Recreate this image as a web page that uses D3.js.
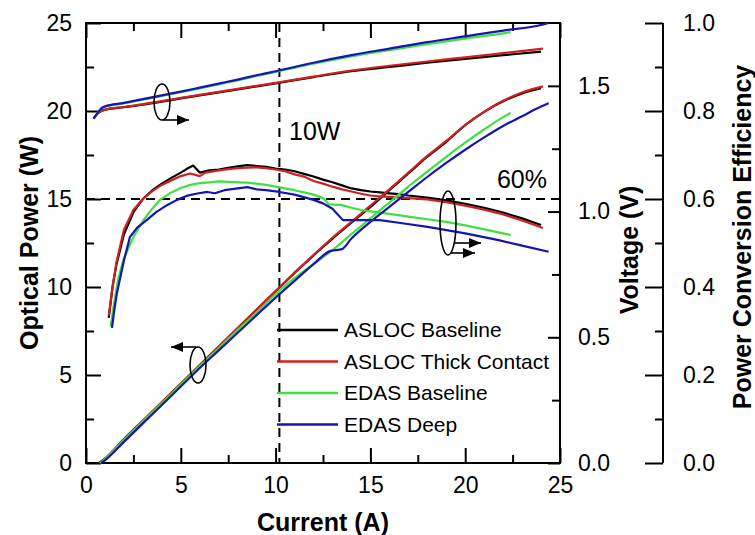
<!DOCTYPE html>
<html>
<head>
<meta charset="utf-8">
<script src="https://cdn.jsdelivr.net/npm/d3@7"></script>
<style>
  html, body { margin: 0; padding: 0; background: #fff; }
  svg { display: block; }
  text { font-family: Arial, "Liberation Sans", sans-serif; fill: #000; }
</style>
</head>
<body>
<svg id="chart" width="755" height="535"></svg>
<script>
// ---------------- DATA ----------------
const seriesNames = ["ASLOC Baseline", "ASLOC Thick Contact", "EDAS Baseline", "EDAS Deep"];
const seriesColors = ["#000000", "#d0201f", "#3fe03f", "#1515b0"];

// Optical power (W) vs current (A)
const powerI_aslocBase = [0.7, 1, 2, 3, 4, 5, 6, 7, 8, 9, 10, 11, 12, 13, 14, 15, 16, 17, 18, 19, 20, 21, 22, 23, 24];
const powerW_aslocBase = [0, 0.25, 1.35, 2.4, 3.45, 4.5, 5.55, 6.6, 7.65, 8.7, 9.75, 10.8, 11.8, 12.75, 13.65, 14.55, 15.5, 16.45, 17.4, 18.25, 19.2, 19.95, 20.55, 21.0, 21.3];
const powerI_aslocThick = [0.7, 1, 2, 3, 4, 5, 6, 7, 8, 9, 10, 11, 12, 13, 14, 15, 16, 17, 18, 19, 20, 21, 22, 23, 24.1];
const powerW_aslocThick = [0, 0.25, 1.35, 2.4, 3.45, 4.5, 5.57, 6.62, 7.67, 8.72, 9.77, 10.8, 11.82, 12.8, 13.7, 14.62, 15.55, 16.5, 17.45, 18.3, 19.2, 19.95, 20.58, 21.05, 21.4];
const powerI_edasBase = [0.75, 1, 2, 3, 4, 5, 6, 7, 8, 9, 10, 11, 12, 13, 14, 15, 16, 17, 18, 19, 20, 21, 22, 22.4];
const powerW_edasBase = [0, 0.22, 1.3, 2.35, 3.4, 4.45, 5.5, 6.52, 7.55, 8.55, 9.6, 10.5, 11.3, 12.1, 13.0, 13.9, 14.8, 15.7, 16.55, 17.4, 18.2, 18.95, 19.65, 19.9];
const powerI_edasDeep = [0.8, 1, 2, 3, 4, 5, 6, 7, 8, 9, 10, 11, 12, 12.9, 13.5, 14, 15, 16, 17, 18, 19, 20, 21, 22, 23, 24, 24.4];
const powerW_edasDeep = [0, 0.15, 1.2, 2.25, 3.3, 4.35, 5.4, 6.4, 7.4, 8.4, 9.4, 10.35, 11.3, 12.05, 12.15, 12.75, 13.7, 14.55, 15.4, 16.25, 17.05, 17.8, 18.5, 19.15, 19.7, 20.25, 20.45];

// Voltage (V) vs current (A)
const voltI_aslocBase = [0.4, 0.6, 0.8, 1, 2, 3, 4, 5, 6, 7, 8, 9, 10, 12, 14, 16, 18, 20, 22, 24];
const voltV_aslocBase = [1.37, 1.39, 1.40, 1.405, 1.415, 1.425, 1.437, 1.45, 1.462, 1.474, 1.486, 1.498, 1.51, 1.535, 1.558, 1.575, 1.592, 1.607, 1.622, 1.636];
const voltI_aslocThick = [0.4, 0.6, 0.8, 1, 2, 3, 4, 5, 6, 7, 8, 9, 10, 12, 14, 16, 18, 20, 22, 24.1];
const voltV_aslocThick = [1.37, 1.39, 1.40, 1.405, 1.416, 1.427, 1.439, 1.452, 1.464, 1.476, 1.488, 1.5, 1.512, 1.537, 1.561, 1.58, 1.597, 1.613, 1.63, 1.648];
const voltI_edasBase = [0.4, 0.6, 0.8, 1, 2, 3, 4, 5, 6, 7, 8, 9, 10, 12, 14, 16, 18, 20, 22, 22.4];
const voltV_edasBase = [1.37, 1.39, 1.41, 1.418, 1.43, 1.445, 1.46, 1.475, 1.49, 1.506, 1.522, 1.539, 1.555, 1.588, 1.617, 1.642, 1.666, 1.688, 1.709, 1.714];
const voltI_edasDeep = [0.4, 0.6, 0.8, 1, 2, 3, 4, 5, 6, 7, 8, 9, 10, 12, 14, 16, 18, 20, 22, 24, 24.4];
const voltV_edasDeep = [1.37, 1.39, 1.41, 1.418, 1.432, 1.447, 1.462, 1.477, 1.493, 1.509, 1.525, 1.542, 1.558, 1.592, 1.622, 1.648, 1.674, 1.697, 1.72, 1.742, 1.75];

// Power conversion efficiency vs current (A)
const pceI_aslocBase = [1.2, 1.4, 1.6, 2, 2.5, 3, 3.5, 4, 4.5, 5, 5.3, 5.65, 6, 6.5, 7, 7.5, 8, 8.5, 9, 9.5, 10, 10.5, 11, 11.5, 12, 12.5, 13, 13.5, 14, 14.5, 15, 15.5, 16, 16.5, 17, 18, 19, 20, 21, 22, 23, 24];
const pceE_aslocBase = [0.33, 0.40, 0.45, 0.52, 0.57, 0.60, 0.62, 0.635, 0.648, 0.66, 0.668, 0.676, 0.66, 0.665, 0.667, 0.671, 0.674, 0.677, 0.675, 0.673, 0.669, 0.667, 0.663, 0.657, 0.651, 0.644, 0.638, 0.631, 0.624, 0.62, 0.617, 0.615, 0.613, 0.611, 0.608, 0.603, 0.597, 0.589, 0.58, 0.569, 0.556, 0.541];
const pceI_aslocThick = [1.2, 1.4, 1.6, 2, 2.5, 3, 3.5, 4, 4.5, 5, 5.5, 6, 6.3, 7, 7.5, 8, 8.5, 9, 9.5, 10, 10.5, 11, 11.5, 12, 12.5, 13, 13.5, 14, 14.5, 15, 15.5, 16, 17, 18, 19, 20, 21, 22, 23, 24.1];
const pceE_aslocThick = [0.335, 0.40, 0.455, 0.53, 0.575, 0.60, 0.618, 0.632, 0.642, 0.652, 0.658, 0.652, 0.66, 0.665, 0.668, 0.67, 0.671, 0.672, 0.67, 0.667, 0.663, 0.656, 0.651, 0.641, 0.635, 0.628, 0.622, 0.617, 0.612, 0.608, 0.606, 0.605, 0.602, 0.599, 0.593, 0.585, 0.576, 0.565, 0.551, 0.534];
const pceI_edasBase = [1.3, 1.45, 1.7, 2, 2.5, 3, 3.5, 3.9, 4.5, 5, 5.5, 6, 6.5, 7, 7.5, 8, 8.5, 9, 9.5, 10, 10.5, 11, 11.5, 12, 12.5, 12.8, 13.5, 14, 14.5, 15, 16, 17, 18, 19, 20, 21, 22, 22.4];
const pceE_edasBase = [0.31, 0.355, 0.42, 0.465, 0.514, 0.55, 0.578, 0.598, 0.615, 0.625, 0.632, 0.636, 0.638, 0.64, 0.639, 0.638, 0.637, 0.635, 0.632, 0.628, 0.624, 0.62, 0.615, 0.61, 0.602, 0.588, 0.586, 0.58, 0.575, 0.572, 0.566, 0.56, 0.554, 0.548, 0.54, 0.531, 0.522, 0.518];
const pceI_edasDeep = [1.37, 1.5, 1.63, 2, 2.32, 2.7, 3.2, 3.7, 4.27, 4.8, 5.3, 5.8, 6.4, 6.8, 7.3, 8, 8.5, 9, 9.5, 10.2, 11, 12, 12.5, 13, 13.55, 14, 15.5, 16.5, 18.1, 20, 21.7, 23, 24.4];
const pceE_edasDeep = [0.307, 0.35, 0.386, 0.46, 0.514, 0.535, 0.552, 0.57, 0.586, 0.598, 0.607, 0.612, 0.616, 0.613, 0.62, 0.624, 0.627, 0.622, 0.62, 0.616, 0.61, 0.598, 0.59, 0.578, 0.552, 0.552, 0.552, 0.546, 0.536, 0.522, 0.507, 0.494, 0.48];

// Axis ticks
const currentTicks = [0, 5, 10, 15, 20, 25];
const currentMinor = [2.5, 7.5, 12.5, 17.5, 22.5];
const powerTicks = [0, 5, 10, 15, 20, 25];
const powerMinor = [2.5, 7.5, 12.5, 17.5, 22.5];
const voltTicks = [0, 0.5, 1.0, 1.5];
const voltMinor = [0.25, 0.75, 1.25];
const pceTicks = [0, 0.2, 0.4, 0.6, 0.8, 1.0];
const pceMinor = [0.1, 0.3, 0.5, 0.7, 0.9];

// Reference markers
const refCurrent = 10.2;   // vertical dashed line (10 W)
const refPower = 15;       // horizontal dashed line (60 %)

// ---------------- CHART ----------------
const svg = d3.select("#chart");
const L = 86, R = 560, T = 23, B = 463;
const x = d3.scaleLinear([0, 25], [L, R]);
const yP = d3.scaleLinear([0, 25], [B, T]);
const yV = d3.scaleLinear([0, 1.75], [B, T]);
const yE = d3.scaleLinear([0, 1], [B, T]);

const tickFont = "23px";
const major = 15, minor = 8;

function styleAxis(g) {
  g.select(".domain").remove();
  g.selectAll(".tick line").attr("stroke", "#000").attr("stroke-width", 2);
  g.selectAll(".tick text").style("font-size", tickFont).attr("fill", "#000");
}

// bottom axis
svg.append("g").attr("transform", `translate(0,${B})`)
  .call(d3.axisBottom(x).tickValues(currentTicks).tickSize(-major).tickPadding(14).tickFormat(d3.format("d")))
  .call(styleAxis);
svg.append("g").attr("transform", `translate(0,${B})`)
  .call(d3.axisBottom(x).tickValues(currentMinor).tickSize(-minor).tickFormat(""))
  .call(styleAxis);
// top axis
svg.append("g").attr("transform", `translate(0,${T})`)
  .call(d3.axisTop(x).tickValues(currentTicks).tickSize(-major).tickFormat(""))
  .call(styleAxis);
svg.append("g").attr("transform", `translate(0,${T})`)
  .call(d3.axisTop(x).tickValues(currentMinor).tickSize(-minor).tickFormat(""))
  .call(styleAxis);
// left axis (power)
svg.append("g").attr("transform", `translate(${L},0)`)
  .call(d3.axisLeft(yP).tickValues(powerTicks).tickSize(-major).tickPadding(14).tickFormat(d3.format("d")))
  .call(styleAxis);
svg.append("g").attr("transform", `translate(${L},0)`)
  .call(d3.axisLeft(yP).tickValues(powerMinor).tickSize(-minor).tickFormat(""))
  .call(styleAxis);
// right axis (voltage) on the frame
svg.append("g").attr("transform", `translate(${R},0)`)
  .call(d3.axisRight(yV).tickValues(voltTicks).tickSize(-major + 3).tickPadding(18).tickFormat(d3.format(".1f")))
  .call(styleAxis);
svg.append("g").attr("transform", `translate(${R},0)`)
  .call(d3.axisRight(yV).tickValues(voltMinor).tickSize(-minor).tickFormat(""))
  .call(styleAxis);
// offset PCE axis
const PX = 663;
const pceG = svg.append("g").attr("transform", `translate(${PX},0)`)
  .call(d3.axisLeft(yE).tickValues(pceTicks).tickSize(18).tickFormat(d3.format(".1f")))
  .call(styleAxis);
pceG.selectAll(".tick text").attr("text-anchor", "start").attr("x", 20);
svg.append("g").attr("transform", `translate(${PX},0)`)
  .call(d3.axisLeft(yE).tickValues(pceMinor).tickSize(8).tickFormat(""))
  .call(styleAxis);
svg.append("line").attr("x1", PX).attr("x2", PX).attr("y1", T).attr("y2", B)
  .attr("stroke", "#000").attr("stroke-width", 2);

// frame
svg.append("rect").attr("x", L).attr("y", T).attr("width", R - L).attr("height", B - T)
  .attr("fill", "none").attr("stroke", "#000").attr("stroke-width", 2);

// dashed reference lines
svg.append("line").attr("x1", x(refCurrent)).attr("x2", x(refCurrent)).attr("y1", T).attr("y2", B)
  .attr("stroke", "#000").attr("stroke-width", 2).attr("stroke-dasharray", "9,6");
svg.append("line").attr("x1", L).attr("x2", R).attr("y1", yP(refPower)).attr("y2", yP(refPower))
  .attr("stroke", "#000").attr("stroke-width", 2).attr("stroke-dasharray", "9,6");

// curves
const zipData = (a, b) => a.map((v, i) => [v, b[i]]);
const powerSets = [[powerI_aslocBase, powerW_aslocBase], [powerI_aslocThick, powerW_aslocThick], [powerI_edasBase, powerW_edasBase], [powerI_edasDeep, powerW_edasDeep]];
const voltSets = [[voltI_aslocBase, voltV_aslocBase], [voltI_aslocThick, voltV_aslocThick], [voltI_edasBase, voltV_edasBase], [voltI_edasDeep, voltV_edasDeep]];
const pceSets = [[pceI_aslocBase, pceE_aslocBase], [pceI_aslocThick, pceE_aslocThick], [pceI_edasBase, pceE_edasBase], [pceI_edasDeep, pceE_edasDeep]];

const lineP = d3.line().x(d => x(d[0])).y(d => yP(d[1])).curve(d3.curveMonotoneX);
const lineV = d3.line().x(d => x(d[0])).y(d => yV(d[1])).curve(d3.curveMonotoneX);
const lineE = d3.line().x(d => x(d[0])).y(d => yE(d[1]));

const curves = svg.append("g").attr("fill", "none").attr("stroke-width", 2.2).attr("stroke-linejoin", "round");
[0, 1, 2, 3].forEach(i => {
  curves.append("path").attr("d", lineV(zipData(...voltSets[i]))).attr("stroke", seriesColors[i]);
  curves.append("path").attr("d", lineE(zipData(...pceSets[i]))).attr("stroke", seriesColors[i]);
  curves.append("path").attr("d", lineP(zipData(...powerSets[i]))).attr("stroke", seriesColors[i]);
});

// annotations: ellipses + arrows
const defs = svg.append("defs");
defs.append("marker").attr("id", "arrow").attr("viewBox", "0 0 12 10")
  .attr("refX", 12).attr("refY", 5).attr("markerWidth", 12).attr("markerHeight", 10)
  .attr("markerUnits", "userSpaceOnUse").attr("orient", "auto")
  .append("path").attr("d", "M0,0 L12,5 L0,10 Z").attr("fill", "#000");

const ann = svg.append("g").attr("stroke", "#000").attr("stroke-width", 1.6).attr("fill", "none");
ann.append("ellipse").attr("cx", 162).attr("cy", 102).attr("rx", 8).attr("ry", 18);
ann.append("line").attr("x1", 163).attr("y1", 120).attr("x2", 189).attr("y2", 120).attr("marker-end", "url(#arrow)");
ann.append("ellipse").attr("cx", 198).attr("cy", 365).attr("rx", 8).attr("ry", 18);
ann.append("line").attr("x1", 196).attr("y1", 347).attr("x2", 171).attr("y2", 347).attr("marker-end", "url(#arrow)");
ann.append("ellipse").attr("cx", 448).attr("cy", 223).attr("rx", 8).attr("ry", 32);
ann.append("line").attr("x1", 454).attr("y1", 243).attr("x2", 481).attr("y2", 243).attr("marker-end", "url(#arrow)");
ann.append("line").attr("x1", 451).attr("y1", 253).attr("x2", 475).attr("y2", 253).attr("marker-end", "url(#arrow)");

// text annotations
svg.append("text").attr("x", 289).attr("y", 140).style("font-size", "25px").text("10W");
svg.append("text").attr("x", 547).attr("y", 188).attr("text-anchor", "end").style("font-size", "25px").text("60%");

// legend
const leg = svg.append("g");
seriesNames.forEach((n, i) => {
  const yy = 330 + i * 31.5;
  leg.append("line").attr("x1", 277).attr("x2", 338).attr("y1", yy).attr("y2", yy)
    .attr("stroke", seriesColors[i]).attr("stroke-width", 2.5);
  leg.append("text").attr("x", 344).attr("y", yy).attr("dy", "0.35em").style("font-size", "21px").text(n);
});

// axis titles
svg.append("text").attr("x", (L + R) / 2).attr("y", 531).attr("text-anchor", "middle")
  .style("font-size", "25px").style("font-weight", "bold").text("Current (A)");
svg.append("text").attr("transform", `translate(38,${(T + B) / 2}) rotate(-90)`).attr("text-anchor", "middle")
  .style("font-size", "25px").style("font-weight", "bold").text("Optical Power (W)");
svg.append("text").attr("transform", `translate(638,250) rotate(-90)`).attr("text-anchor", "middle")
  .style("font-size", "25px").style("font-weight", "bold").text("Voltage (V)");
svg.append("text").attr("transform", `translate(751,237) rotate(-90)`).attr("text-anchor", "middle")
  .style("font-size", "25px").style("font-weight", "bold").text("Power Conversion Efficiency");
</script>
</body>
</html>
